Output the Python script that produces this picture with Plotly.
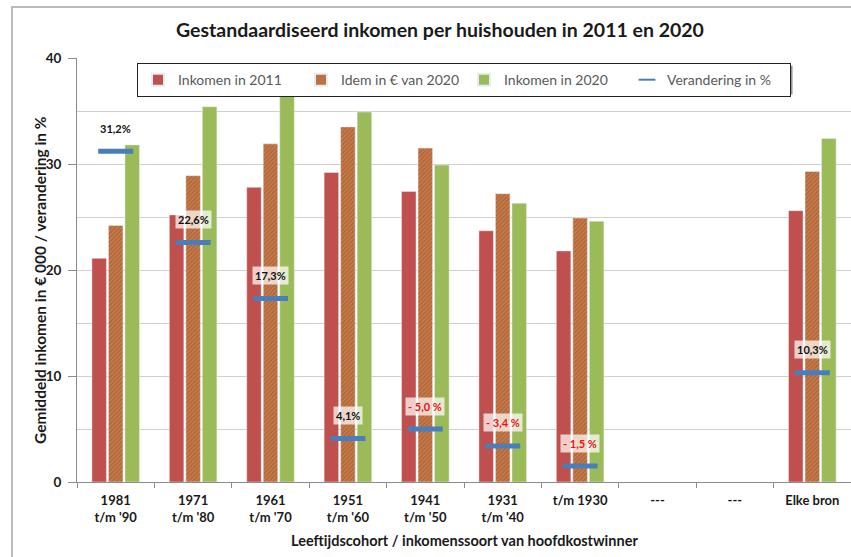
import plotly.graph_objects as go

# Cohort labels along the x axis
cohorts = ["1981<br>t/m '90", "1971<br>t/m '80", "1961<br>t/m '70", "1951<br>t/m '60",
           "1941<br>t/m '50", "1931<br>t/m '40", "t/m 1930", "---", "---", "Elke bron"]

# Average standardised income per household, in € 000
inkomen_2011 = [21.1, 25.2, 27.8, 29.2, 27.4, 23.7, 21.8, None, None, 25.6]
idem_2020_euro = [24.2, 28.9, 31.9, 33.5, 31.5, 27.2, 24.9, None, None, 29.3]
inkomen_2020 = [31.8, 35.4, 37.4, 34.9, 29.9, 26.3, 24.6, None, None, 32.4]

# Change in % (real terms)
verandering = [31.2, 22.6, 17.3, 4.1, -5.0, -3.4, -1.5, None, None, 10.3]

x_pos = list(range(len(cohorts)))
FONT = "Lato"
DARK = "#1a1a1a"
AXIS = "#8c8c8c"
GRID = "#d0d0d0"

fig = go.Figure()
fig.add_trace(go.Bar(x=x_pos, y=inkomen_2011, name="Inkomen in 2011",
                     marker=dict(color="#c0504d")))
fig.add_trace(go.Bar(x=x_pos, y=idem_2020_euro, name="Idem in € van 2020",
                     marker=dict(color="#c97c4a",
                                 pattern=dict(shape="/", fgcolor="#8e4a26", size=3, solidity=0.45))))
fig.add_trace(go.Bar(x=x_pos, y=inkomen_2020, name="Inkomen in 2020",
                     marker=dict(color="#9bbb59")))

# Change markers are drawn at the size of the change
marker_y = [abs(v) if v is not None else None for v in verandering]
fig.add_trace(go.Scatter(x=x_pos, y=marker_y, name="Verandering in %", mode="markers",
                         marker=dict(symbol="line-ew", size=25,
                                     line=dict(color="#4a7ebb", width=5))))

annotations = []
for xi, v in zip(x_pos, verandering):
    if v is None:
        continue
    if v >= 0:
        txt = f"{v:.1f}%".replace(".", ",")
        col = "#111111"
    else:
        txt = f"- {abs(v):.1f} %".replace(".", ",")
        col = "#ee1111"
    annotations.append(dict(x=xi, y=abs(v), text=f"<b>{txt}</b>", showarrow=False,
                            yshift=23, bgcolor="rgba(255,255,255,0.72)",
                            font=dict(family=FONT, size=11, color=col), borderpad=2))

# Axis titles
annotations.append(dict(xref="paper", yref="paper", x=-0.048, y=0.476, textangle=-90,
                        text="<b>Gemiddeld inkomen in € 000 / verandering in %</b>",
                        showarrow=False, xanchor="center", yanchor="middle",
                        font=dict(family=FONT, size=15.5, color=DARK)))
annotations.append(dict(xref="paper", yref="paper", x=0.5, y=-0.137,
                        text="<b>Leeftijdscohort / inkomenssoort van hoofdkostwinner</b>",
                        showarrow=False, xanchor="center", yanchor="middle",
                        font=dict(family=FONT, size=14.5, color=DARK)))

shapes = [
    # outer chart frame
    dict(type="rect", xref="paper", yref="paper", x0=-0.084, x1=1.05, y0=-0.4, y1=1.12,
         line=dict(color="#a6a6a6", width=1.5), fillcolor="rgba(0,0,0,0)", layer="below"),
    # drop shadow behind the legend box
    dict(type="rect", xref="paper", yref="paper", x0=0.084, x1=0.9245, y0=0.914, y1=0.982,
         line=dict(width=0), fillcolor="rgba(60,60,60,0.55)", layer="above"),
]

fig.update_layout(
    width=851, height=557,
    margin=dict(l=77, r=0, t=58, b=75),
    paper_bgcolor="white", plot_bgcolor="white",
    barmode="group", bargap=0.36, bargroupgap=0.12,
    title=dict(text="<b>Gestandaardiseerd inkomen per huishouden in 2011 en 2020</b>",
               x=0.517, xanchor="center", y=0.946, yanchor="middle",
               font=dict(family=FONT, size=19.5, color=DARK)),
    font=dict(family=FONT, color="#262626"),
    legend=dict(orientation="h", x=0.5, xanchor="center", y=0.988, yanchor="top",
                bgcolor="white", bordercolor="#222222", borderwidth=1,
                font=dict(family=FONT, size=14, color="#595959"),
                entrywidth=118, itemsizing="constant"),
    xaxis=dict(range=[-0.5, 9.5], tickmode="array", tickvals=x_pos,
               ticktext=[f"<b>{c}</b>" for c in cohorts],
               ticks="", showline=True, linecolor=AXIS, linewidth=1, showgrid=False,
               zeroline=False, tickfont=dict(family=FONT, size=13, color=DARK),
               ticklabelstandoff=6,
               minor=dict(tickmode="array", tickvals=[i + 0.5 for i in range(-1, 10)],
                          ticks="outside", ticklen=5, tickcolor=AXIS, showgrid=False)),
    yaxis=dict(range=[0, 40], dtick=10, ticks="outside", ticklen=8, tickcolor=AXIS,
               showline=True, linecolor=AXIS, linewidth=1, zeroline=False,
               gridcolor=GRID, tickfont=dict(family=FONT, size=13.5, color=DARK),
               tickprefix="<b>", ticksuffix="</b>", ticklabelstandoff=4,
               minor=dict(dtick=5, showgrid=True, gridcolor=GRID)),
    annotations=annotations,
    shapes=shapes,
)

fig.write_html("out.html")
